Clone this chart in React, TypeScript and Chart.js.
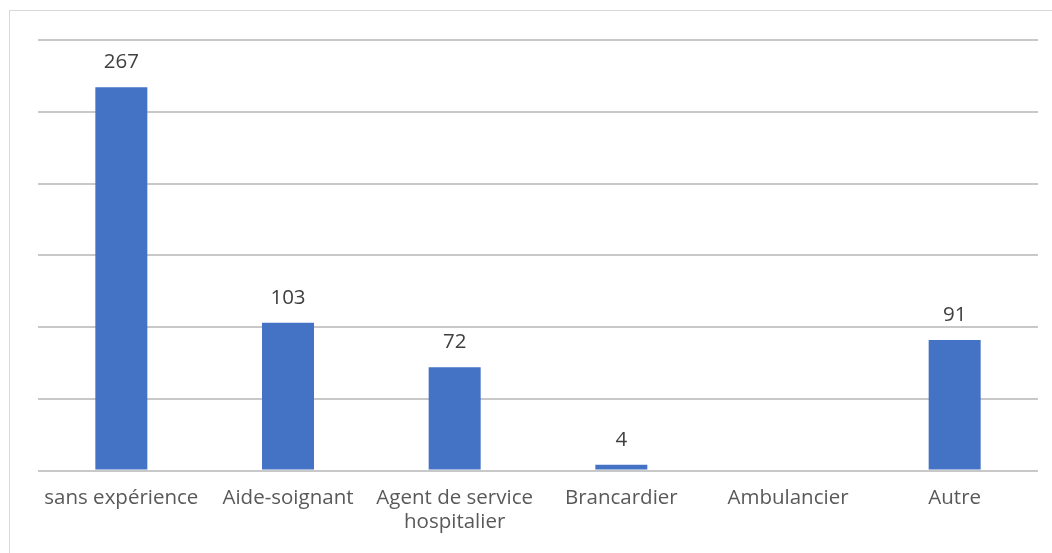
import React, { useEffect, useRef } from "react";
import { Chart, registerables } from "chart.js";

Chart.register(...registerables);

const categories: (string | string[])[] = [
  "sans expérience",
  "Aide-soignant",
  ["Agent de service", "hospitalier"],
  "Brancardier",
  "Ambulancier",
  "Autre",
];
const values: (number | null)[] = [267, 103, 72, 4, null, 91];
const yMin = 0;
const yMax = 300;
const yStep = 50;

const FONT = "'Open Sans', sans-serif";

const framePlugin = {
  id: "frame",
  beforeDraw(chart: any) {
    const ctx = chart.ctx;
    ctx.save();
    ctx.fillStyle = "#ffffff";
    ctx.fillRect(0, 0, chart.width, chart.height);
    ctx.strokeStyle = "#d9d9d9";
    ctx.lineWidth = 1;
    ctx.strokeRect(9.5, 10.5, chart.width + 50, chart.height + 50);
    ctx.restore();
  },
};

const labelPlugin = {
  id: "valueLabels",
  afterDatasetsDraw(chart: any) {
    const ctx = chart.ctx;
    const meta = chart.getDatasetMeta(0);
    ctx.save();
    ctx.font = `20.5px ${FONT}`;
    ctx.fillStyle = "#404040";
    ctx.textAlign = "center";
    ctx.textBaseline = "alphabetic";
    meta.data.forEach((bar: any, i: number) => {
      const v = chart.data.datasets[0].data[i];
      if (v === null || v === undefined) return;
      ctx.fillText(String(v), bar.x, bar.y - 19);
    });
    ctx.restore();
  },
};

export default function App() {
  const ref = useRef<HTMLCanvasElement>(null);
  useEffect(() => {
    if (!ref.current) return;
    const chart = new Chart(ref.current, {
      type: "bar",
      data: {
        labels: categories,
        datasets: [
          {
            data: values,
            backgroundColor: "#4472C4",
            borderWidth: 0,
            barPercentage: 0.312,
            categoryPercentage: 1,
          },
        ],
      },
      options: {
        animation: false,
        responsive: false,
        devicePixelRatio: 1,
        layout: { padding: { left: 38, right: 14, top: 40, bottom: 0 } },
        plugins: {
          legend: { display: false },
          tooltip: { enabled: false },
        },
        scales: {
          x: {
            grid: { display: false, drawTicks: false },
            border: { display: false },
            ticks: {
              font: { family: FONT, size: 20.5, lineHeight: 1.17 },
              color: "#595959",
              padding: 16,
              maxRotation: 0,
              autoSkip: false,
            },
            afterFit(scale: any) {
              scale.height = 82.5;
            },
          },
          y: {
            min: yMin,
            max: yMax,
            ticks: { display: false, stepSize: yStep },
            grid: { color: "#c8c8c8", lineWidth: 2, drawTicks: false },
            border: { display: false },
            afterFit(scale: any) {
              scale.width = 0;
            },
          },
        },
      },
      plugins: [framePlugin, labelPlugin],
    });
    return () => chart.destroy();
  }, []);
  return (
    <div style={{ position: "absolute", left: 0, top: 0, width: 1052, height: 553 }}>
      <canvas ref={ref} width={1052} height={553} />
    </div>
  );
}
